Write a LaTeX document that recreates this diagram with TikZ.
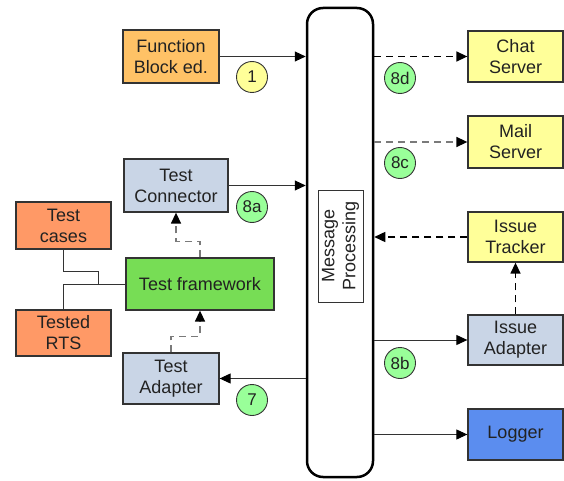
\documentclass[tikz,border=0pt]{standalone}
\usepackage{fontspec}
\setmainfont{Liberation Sans}
\usetikzlibrary{arrows.meta}

\definecolor{fborange}{HTML}{FFC266}
\definecolor{testorange}{HTML}{FF9966}
\definecolor{framegreen}{HTML}{77DD55}
\definecolor{adaptblue}{HTML}{C9D5E6}
\definecolor{srvyellow}{HTML}{FFFF99}
\definecolor{logblue}{HTML}{5B8DEF}
\definecolor{stepgreen}{HTML}{99FF99}
\definecolor{stepyellow}{HTML}{FFFF99}
\definecolor{edge}{HTML}{333333}
\definecolor{txt}{HTML}{222222}
\definecolor{dashgray}{HTML}{7A7A7A}

\tikzset{
  box/.style={draw=edge, line width=1.3pt, inner sep=0pt, align=center,
    text=txt, font=\fontsize{18}{21}\selectfont},
  stepmark/.style={circle, draw=edge, line width=0.9pt, inner sep=0pt,
    minimum size=31pt, text=txt, font=\fontsize{17}{19}\selectfont},
  arr/.style={draw=edge, line width=1pt,
    -{Triangle[length=11pt,width=10pt,color=black]}},
  dasharr/.style={arr, line width=1.4pt, dash pattern=on 7pt off 5pt},
  link/.style={draw=edge, line width=1pt},
}

\begin{document}
\begin{tikzpicture}[x=1pt,y=-1pt]
\useasboundingbox (0,0) rectangle (564,481);

% central message bus
\node[draw=black, line width=2.5pt, rounded corners=16pt, minimum width=66pt,
  minimum height=469pt, inner sep=0pt] (bus) at (340,242.5) {};
\node[box, line width=1pt, rotate=90, minimum width=112pt, minimum height=45pt]
  (mp) at (340.5,246) {Message\\Processing};

% left side
\node[box, fill=fborange, minimum width=96pt, minimum height=53pt] (fb) at (171,56.5) {Function\\Block ed.};
\node[box, fill=adaptblue, minimum width=104pt, minimum height=53pt] (conn) at (176,185.5) {Test\\Connector};
\node[box, fill=testorange, minimum width=95pt, minimum height=47pt] (cases) at (63.5,225.5) {Test\\cases};
\node[box, fill=framegreen, minimum width=148pt, minimum height=52pt] (tf) at (200,284) {Test framework};
\node[box, fill=testorange, minimum width=95pt, minimum height=46pt] (rts) at (63.5,333) {Tested\\RTS};
\node[box, fill=adaptblue, minimum width=96pt, minimum height=51pt] (tad) at (171,378.5) {Test\\Adapter};

% right side
\node[box, fill=srvyellow, minimum width=95pt, minimum height=51pt] (chat) at (515.5,56.5) {Chat\\Server};
\node[box, fill=srvyellow, minimum width=95pt, minimum height=52pt] (mail) at (515.5,142) {Mail\\Server};
\node[box, fill=srvyellow, minimum width=95pt, minimum height=50pt] (itr) at (515.5,237) {Issue\\Tracker};
\node[box, fill=adaptblue, minimum width=95pt, minimum height=50pt] (iad) at (515.5,340) {Issue\\Adapter};
\node[box, fill=logblue, minimum width=95pt, minimum height=51pt] (log) at (515.5,434.5) {Logger};

% step markers
\node[stepmark, fill=stepyellow] (s1) at (252,77) {1};
\node[stepmark, fill=stepgreen] (s8a) at (252,207) {8a};
\node[stepmark, fill=stepgreen] (s7) at (252,400) {7};
\node[stepmark, fill=stepgreen] (s8d) at (400,78) {8d};
\node[stepmark, fill=stepgreen] (s8c) at (400,163) {8c};
\node[stepmark, fill=stepgreen] (s8b) at (400,363) {8b};

% connectors to and from the bus
\draw[arr] (fb.east) -- (fb.east -| bus.west);
\draw[arr] (conn.east) -- (conn.east -| bus.west);
\draw[arr] (tad.east -| bus.west) -- (tad.east);
\draw[dasharr, draw=black] (chat.west -| bus.east) -- (chat.west);
\draw[dasharr, draw=dashgray] (mail.west -| bus.east) -- (mail.west);
\draw[dasharr, draw=black] (itr.west) -- (itr.west -| bus.east);
\draw[arr] (iad.west -| bus.east) -- (iad.west);
\draw[arr] (log.west -| bus.east) -- (log.west);
\draw[dasharr, draw=black] (iad.north) -- (itr.south);

% test framework wiring
\coordinate (join) at (98,284);
\draw[link] (tf.west) -- (rts.north |- tf.west) -- (rts.north);
\draw[link] (cases.south) -- ++(0,22) -| (join);
\draw[dasharr, draw=dashgray] (tf.north) -- ++(0,-16) -| (conn.south);
\draw[dasharr, draw=dashgray] (tad.north) -- ++(0,-16) -| (tf.south);
\end{tikzpicture}
\end{document}
